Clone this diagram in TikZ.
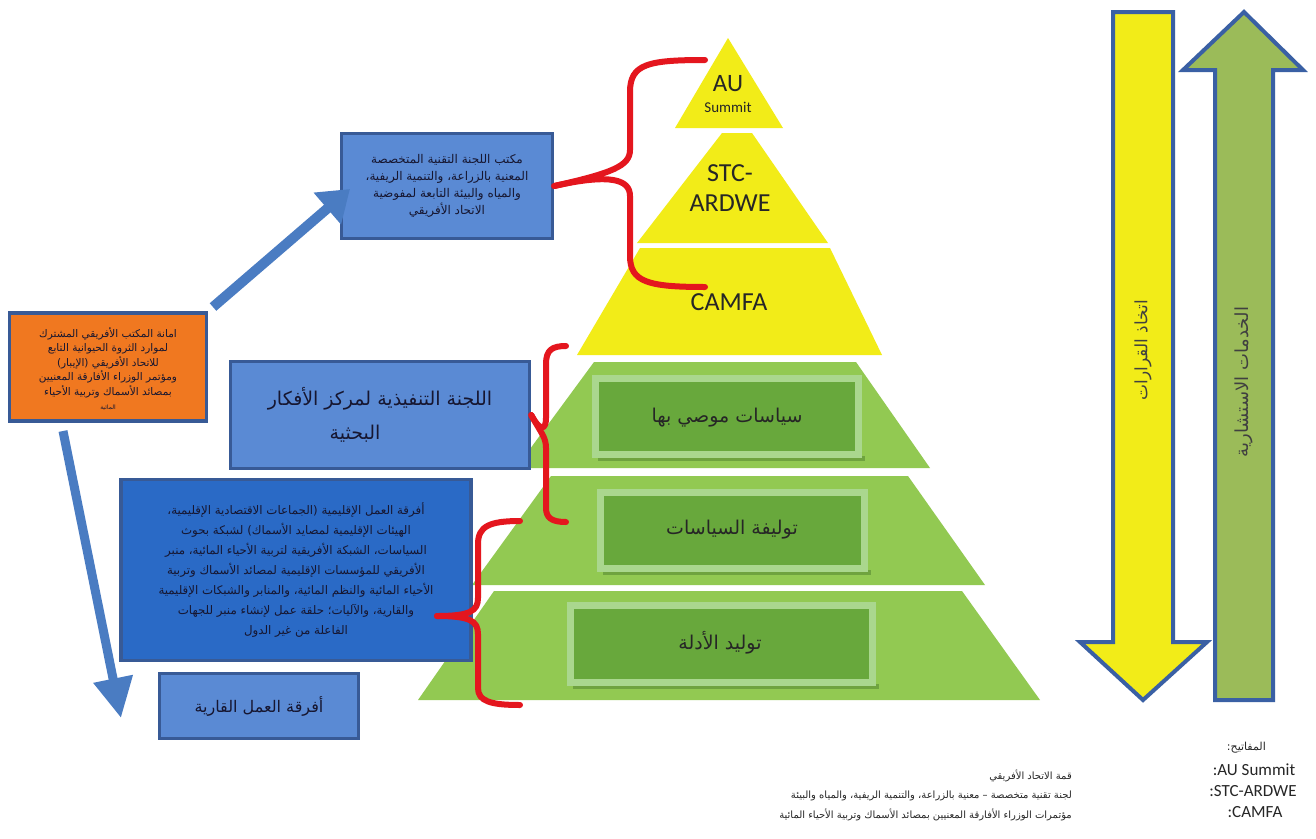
\documentclass[tikz,border=0pt]{standalone}
\usepackage{fontspec}
\usetikzlibrary{arrows.meta}
\TeXXeTstate=1
\newfontfamily\arabicfont[Script=Arabic]{DejaVu Sans}
\newfontfamily\latinsans{Carlito}
\newcommand{\rl}[1]{\beginR #1\endR}
\definecolor{ylw}{RGB}{242,236,24}
\definecolor{grnL}{RGB}{146,201,82}
\definecolor{grnD}{RGB}{104,168,60}
\definecolor{grnF}{RGB}{170,215,142}
\definecolor{boxblue}{RGB}{90,138,212}
\definecolor{boxedge}{RGB}{56,90,150}
\definecolor{deepblue}{RGB}{42,106,198}
\definecolor{orng}{RGB}{240,120,32}
\definecolor{redb}{RGB}{228,22,30}
\definecolor{arrblue}{RGB}{74,124,194}
\definecolor{arrgreen}{RGB}{155,187,89}
\definecolor{arredge}{RGB}{58,96,164}
\definecolor{txtdark}{RGB}{22,22,48}
\tikzset{
  bbox/.style={draw=boxedge, line width=3.5pt, fill=boxblue, align=center, text=txtdark, inner sep=0pt},
  frame/.style={draw=grnF, line width=7pt, fill=grnD},
  brace/.style={draw=redb, line width=6pt, line cap=round, line join=round},
  barrow/.style={draw=arrblue, line width=10pt},
  blockarrow/.style={draw=arredge, line width=4pt, line join=miter},
  lat/.style={text=black!85, inner sep=0pt},
  gtxt/.style={text=black!85, inner sep=0pt, font=\arabicfont\fontsize{19}{22}\selectfont}
}
\begin{document}
\begin{tikzpicture}[x=1pt,y=-1pt]
\useasboundingbox (0,0) rectangle (1316,838);
\fill[white] (0,0) rectangle (1316,838);

% ---- yellow pyramid top ----
\fill[ylw] (728,38) -- (783,128) -- (675,128) -- cycle;
\fill[ylw] (722,133) -- (752,133) -- (828,243) -- (637,243) -- cycle;
\fill[ylw] (640,248) -- (830,248) -- (882,355) -- (577,355) -- cycle;
\node[lat, font=\latinsans\fontsize{25}{25}\selectfont] (au) at (728,84) {AU};
\node[lat, font=\latinsans\fontsize{15}{15}\selectfont] (summit) at (728,107) {Summit};
\node[lat, font=\latinsans\fontsize{26}{30}\selectfont, align=center] (stc) at (730,188) {STC-\\ARDWE};
\node[lat, font=\latinsans\fontsize{26}{26}\selectfont] (camfa) at (729,302) {CAMFA};

% ---- green pyramid ----
\fill[grnL] (594,362) -- (856,362) -- (930,468) -- (516,468) -- cycle;
\fill[grnL] (551,476) -- (908,476) -- (985,585) -- (472,585) -- cycle;
\fill[grnL] (494,591) -- (962,591) -- (1040,700) -- (418,700) -- cycle;
\fill[grnD!75!black, opacity=0.5] (598,456) rectangle (865,461);
\fill[grnD!75!black, opacity=0.5] (603,570) rectangle (871,575);
\fill[grnD!75!black, opacity=0.5] (573,684) rectangle (879,689);
\draw[frame] (595.5,378.5) rectangle (858.5,454.5);
\draw[frame] (600.5,492.5) rectangle (864.5,568.5);
\draw[frame] (570.5,605.5) rectangle (872.5,682.5);
\node[gtxt] (r1t) at (727,418) {\rl{سياسات موصي بها}};
\node[gtxt] (r2t) at (732,530) {\rl{توليفة السياسات}};
\node[gtxt] (r3t) at (720,643) {\rl{توليد الأدلة}};

% ---- boxes ----
\node[bbox, minimum width=211pt, minimum height=105pt,
      font=\arabicfont\fontsize{12}{17}\selectfont] (b1) at (447,186)
  {\rl{مكتب اللجنة التقنية المتخصصة}\\
   \rl{المعنية بالزراعة، والتنمية الريفية،}\\
   \rl{والمياه والبيئة التابعة لمفوضية}\\
   \rl{الاتحاد الأفريقي}};
\node[bbox, minimum width=299pt, minimum height=107pt,
      font=\arabicfont\fontsize{19}{34}\selectfont] (b2) at (380,415)
  {\rl{اللجنة التنفيذية لمركز الأفكار}\\
   \hspace*{-50pt}\rl{البحثية}};
\node[bbox, fill=deepblue, minimum width=350pt, minimum height=181pt,
      font=\arabicfont\fontsize{11.8}{20}\selectfont] (b3) at (296,570)
  {\rl{أفرقة العمل الإقليمية (الجماعات الاقتصادية الإقليمية،}\\
   \rl{الهيئات الإقليمية لمصايد الأسماك) لشبكة بحوث}\\
   \rl{السياسات، الشبكة الأفريقية لتربية الأحياء المائية، منبر}\\
   \rl{الأفريقي للمؤسسات الإقليمية لمصائد الأسماك وتربية}\\
   \rl{الأحياء المائية والنظم المائية، والمنابر والشبكات الإقليمية}\\
   \rl{والقارية، والآليات؛ حلقة عمل لإنشاء منبر للجهات}\\
   \rl{الفاعلة من غير الدول}};
\node[bbox, minimum width=199pt, minimum height=65pt,
      font=\arabicfont\fontsize{16}{18}\selectfont] (b4) at (259,706)
  {\rl{أفرقة العمل القارية}};
\node[bbox, fill=orng, minimum width=197pt, minimum height=108pt] (orange) at (108,367) {};
\node[align=center, inner sep=0pt, text=txtdark,
      font=\arabicfont\fontsize{10.5}{14.5}\selectfont] (orangetxt) at (108,369)
  {\rl{امانة المكتب الأفريقي المشترك}\\
   \rl{لموارد الثروة الحيوانية التابع}\\
   \rl{للاتحاد الأفريقي (الإيبار)}\\
   \rl{ومؤتمر الوزراء الأفارقة المعنيين}\\
   \rl{بمصائد الأسماك وتربية الأحياء}\\
   {\fontsize{6}{7}\selectfont\rl{المائية}}};

% ---- red braces ----
\coordinate (bA1) at (705,60);
\coordinate (bA2) at (705,287);
\coordinate (bAc) at (b1.east);
\draw[brace] (bA1) .. controls (648,60) and (630,64) .. (630,92) -- (630,150)
  .. controls (630,166) and (612,173) .. (bAc);
\draw[brace] (bAc) .. controls (612,173) and (630,180) .. (630,196) -- (630,256)
  .. controls (630,282) and (648,287) .. (bA2);
\coordinate (bB1) at (566,346);
\coordinate (bB2) at (566,522);
\coordinate (bBc) at (b2.east);
\draw[brace] (bB1) .. controls (552,346) and (546,350) .. (546,364) -- (546,418)
  .. controls (546,429) and (541,433) .. (bBc);
\draw[brace] (bBc) .. controls (541,433) and (546,437) .. (546,448) -- (546,508)
  .. controls (546,518) and (552,522) .. (bB2);
\coordinate (bC1) at (520,521);
\coordinate (bC2) at (520,705);
\coordinate (bCc) at (437,616);
\draw[brace] (bC1) .. controls (490,521) and (478,526) .. (478,544) -- (478,598)
  .. controls (478,611) and (470,616) .. (bCc);
\draw[brace] (bCc) .. controls (470,616) and (478,621) .. (478,634) -- (478,688)
  .. controls (478,701) and (490,705) .. (bC2);

% ---- blue arrows from orange box ----
\coordinate (upS) at (213,307);
\coordinate (upE) at (350,189);
\draw[barrow, -{Triangle[width=40pt,length=30pt]}] (upS) -- (upE);
\coordinate (dnS) at (63,431);
\coordinate (dnE) at (121,718);
\draw[barrow, line width=9pt, -{Triangle[width=38pt,length=40pt]}] (dnS) -- (dnE);

% ---- right block arrows ----
\draw[blockarrow, fill=ylw] (1113,12) -- (1173,12) -- (1173,642) -- (1207,642) -- (1143,700)
  -- (1080,642) -- (1113,642) -- cycle;
\draw[blockarrow, fill=arrgreen] (1244,12) -- (1303,70) -- (1273,70) -- (1273,700)
  -- (1215,700) -- (1215,70) -- (1183,70) -- cycle;
\node[rotate=90, text=black!75, inner sep=0pt] (yt) at (1143,350)
  {\arabicfont\fontsize{17}{19}\selectfont\rl{اتخاذ القرارات}};
\node[rotate=90, text=black!75, inner sep=0pt] (gt) at (1244,382)
  {\arabicfont\fontsize{18}{20}\selectfont\rl{الخدمات الاستشارية}};

% ---- legend ----
\node[anchor=east, inner sep=0pt, text=black!85] (keyhdr) at (1266,748)
  {\arabicfont\fontsize{11}{13}\selectfont\rl{المفاتيح:}};
\node[lat, font=\latinsans\fontsize{17}{17}\selectfont] (k1) at (1254,770) {:AU Summit};
\node[lat, font=\latinsans\fontsize{17}{17}\selectfont] (k2) at (1253,791) {:STC-ARDWE};
\node[lat, font=\latinsans\fontsize{17}{17}\selectfont] (k3) at (1255,812) {:CAMFA};
\node[anchor=east, inner sep=0pt, text=black!85] (l1) at (1072,776)
  {\arabicfont\fontsize{10}{11}\selectfont\rl{قمة الاتحاد الأفريقي}};
\node[anchor=east, inner sep=0pt, text=black!85] (l2) at (1072,796)
  {\arabicfont\fontsize{10}{11}\selectfont\rl{لجنة تقنية متخصصة – معنية بالزراعة، والتنمية الريفية، والمياه والبيئة}};
\node[anchor=east, inner sep=0pt, text=black!85] (l3) at (1072,815)
  {\arabicfont\fontsize{10}{11}\selectfont\rl{مؤتمرات الوزراء الأفارقة المعنيين بمصائد الأسماك وتربية الأحياء المائية}};
\end{tikzpicture}
\end{document}
